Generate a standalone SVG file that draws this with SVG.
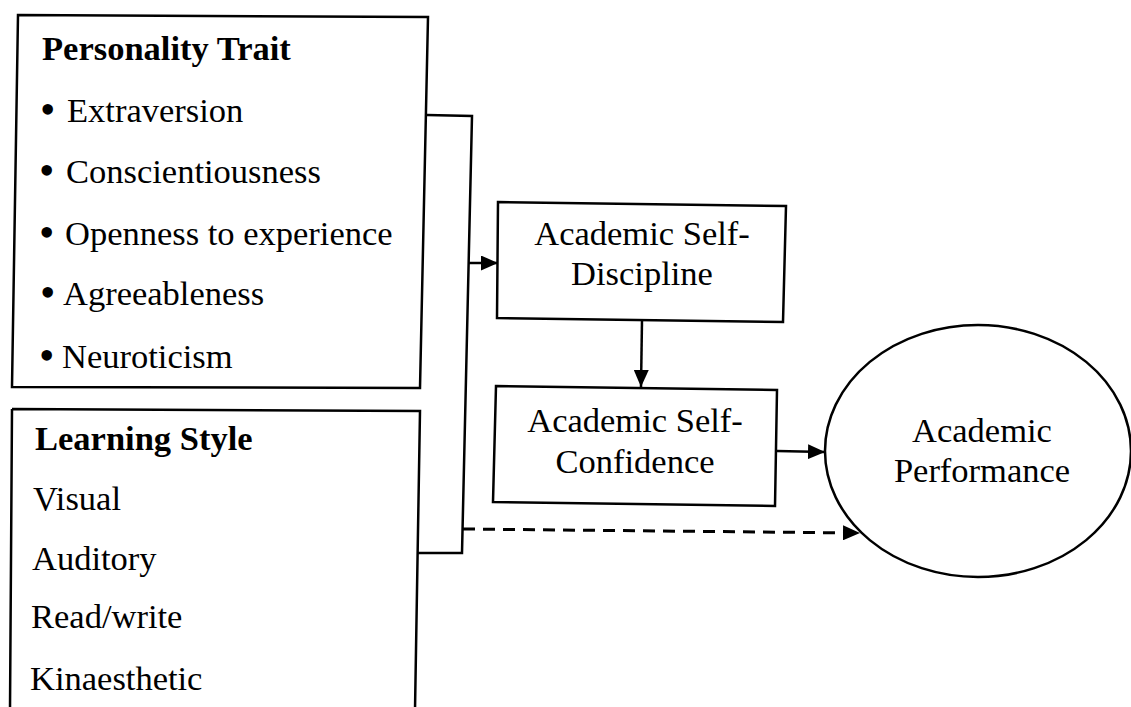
<svg xmlns="http://www.w3.org/2000/svg" width="1131" height="707" viewBox="0 0 1131 707">
<style>
.box{fill:none;stroke:#000;stroke-width:2.5;stroke-linejoin:miter}
.t{font-family:"Liberation Serif","Times New Roman",serif;font-size:34.5px;fill:#000}
.b{font-weight:bold}
.m{text-anchor:middle}
.bu{font-size:44px}
.ln{fill:none;stroke:#000;stroke-width:2.5}
.dash{stroke-width:3;stroke-dasharray:12 8}
</style>
<defs>
<marker id="ah" markerWidth="17" markerHeight="15" refX="17" refY="7.5" orient="auto" markerUnits="userSpaceOnUse">
<path d="M0,0 L17,7.5 L0,15 Z" fill="#000"/>
</marker>
</defs>
<rect width="1131" height="707" fill="#fff"/>
<g id="personality">
<path class="box" d="M18,15 L428,17 L420,388 L12,387 Z"/>
<text class="t b" x="42" y="60">Personality Trait</text>
<text class="t" y="122"><tspan class="bu" x="40" dy="2">•</tspan><tspan x="67" dy="-2">Extraversion</tspan></text>
<text class="t" y="183"><tspan class="bu" x="39" dy="2">•</tspan><tspan x="66" dy="-2">Conscientiousness</tspan></text>
<text class="t" y="245"><tspan class="bu" x="39" dy="2">•</tspan><tspan x="65" dy="-2">Openness to experience</tspan></text>
<text class="t" y="305"><tspan class="bu" x="40" dy="2">•</tspan><tspan x="63" dy="-2">Agreeableness</tspan></text>
<text class="t" y="368"><tspan class="bu" x="39" dy="2">•</tspan><tspan x="62" dy="-2">Neuroticism</tspan></text>
</g>
<g id="learning">
<path class="box" d="M12,409 L420,411 L415,710 M10,710 L12,409"/>
<text class="t b" x="35" y="450">Learning Style</text>
<text class="t" x="33" y="510">Visual</text>
<text class="t" x="32" y="570">Auditory</text>
<text class="t" x="31" y="628">Read/write</text>
<text class="t" x="30" y="690">Kinaesthetic</text>
</g>
<g id="discipline">
<path class="box" d="M498,202 L786,206 L783,322 L497,318 Z"/>
<text class="t m" x="642" y="245">Academic Self-</text>
<text class="t m" x="642" y="285">Discipline</text>
</g>
<g id="confidence">
<path class="box" d="M496,386 L777,390 L775,506 L493,502 Z"/>
<text class="t m" x="635" y="432">Academic Self-</text>
<text class="t m" x="635" y="473">Confidence</text>
</g>
<g id="performance">
<ellipse class="box" cx="978" cy="451" rx="153" ry="126"/>
<text class="t m" x="982" y="442">Academic</text>
<text class="t m" x="982" y="482">Performance</text>
</g>
<g id="connectors">
<path class="ln" d="M427,115 L472,116 L462,553 L418,553"/>
<path class="ln" d="M469,263 L498,263" marker-end="url(#ah)"/>
<path class="ln" d="M642,320 L641,387" marker-end="url(#ah)"/>
<path class="ln" d="M777,451 L825,452" marker-end="url(#ah)"/>
<path class="ln dash" d="M463,529 L860,533" marker-end="url(#ah)"/>
</g>
</svg>
